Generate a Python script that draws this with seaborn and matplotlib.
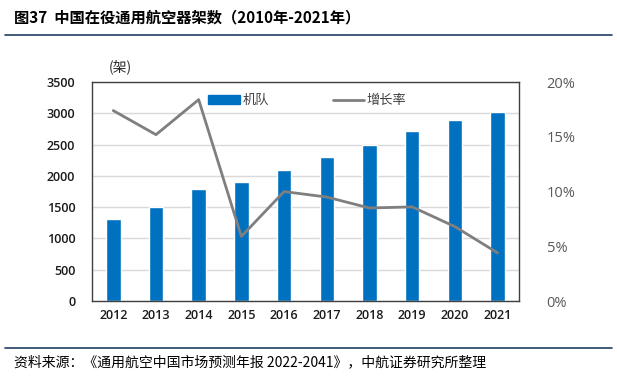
import matplotlib
matplotlib.use("Agg")
import matplotlib.pyplot as plt
import seaborn as sns
import pandas as pd
from matplotlib.lines import Line2D
from matplotlib.patches import Patch
from matplotlib.ticker import FuncFormatter

years = ["2012", "2013", "2014", "2015", "2016", "2017", "2018", "2019", "2020", "2021"]
fleet = [1310, 1500, 1790, 1900, 2095, 2300, 2490, 2715, 2890, 3020]
growth = [17.4, 15.2, 18.4, 5.9, 10.0, 9.5, 8.5, 8.6, 6.8, 4.4]

sns.set_theme(style="white")
plt.rcParams["font.family"] = ["Noto Sans CJK SC", "DejaVu Sans"]

df = pd.DataFrame({"year": years, "fleet": fleet, "growth": growth})

fig = plt.figure(figsize=(6.17, 3.82), dpi=100)
ax = fig.add_axes([0.149, 0.212, 0.692, 0.573])

blue = "#0070C0"
gray = "#7F7F7F"

sns.barplot(data=df, x="year", y="fleet", color=blue, width=0.34, ax=ax,
            saturation=1, zorder=2)
ax.set_ylim(0, 3500)
ax.set_yticks(range(0, 3501, 500))
ax.set_xlim(-0.5, 9.5)
ax.grid(axis="y", color="#D9D9D9", linewidth=1, zorder=0)
ax.set_axisbelow(True)
ax.set_xlabel("")
ax.set_ylabel("")
for s in ax.spines.values():
    s.set_color("#404040")
    s.set_linewidth(1.0)

ax2 = ax.twinx()
sns.lineplot(data=df, x="year", y="growth", color=gray, linewidth=2, ax=ax2,
             sort=False, zorder=3)
ax2.set_ylim(0, 20)
ax2.set_yticks([0, 5, 10, 15, 20])
ax2.yaxis.set_major_formatter(FuncFormatter(lambda v, p: f"{int(v)}%"))
ax2.set_ylabel("")
ax2.set_xlim(-0.5, 9.5)
for s in ax2.spines.values():
    s.set_visible(False)

ax.tick_params(axis="both", length=0, labelsize=9, colors="#1A1A1A", pad=6)
ax.tick_params(axis="y", pad=12)
ax2.tick_params(axis="y", length=0, labelsize=10.5, colors="#595959", pad=20)
for lab in ax.get_xticklabels() + ax.get_yticklabels():
    lab.set_fontfamily(["Open Sans", "DejaVu Sans"])
    lab.set_fontweight(600)
for lab in ax2.get_yticklabels():
    lab.set_fontfamily(["Open Sans", "DejaVu Sans"])

handles = [Patch(facecolor=blue, edgecolor=blue),
           Line2D([0], [0], color=gray, linewidth=2)]
leg = ax.legend(handles, ["机队", "增长率"], ncol=2, frameon=False,
                loc="upper center", bbox_to_anchor=(0.505, 1.0),
                handlelength=2.4, handleheight=0.6, columnspacing=4.8,
                handletextpad=0.2, fontsize=9.5)
for t in leg.get_texts():
    t.set_color("#404040")

fig.text(0.195, 0.825, "(架)", fontsize=10, color="#262626", ha="center", va="center")

fig.text(0.022, 0.953, "图37  中国在役通用航空器架数（2010年-2021年）", fontsize=11,
         fontweight="bold", color="#000000", ha="left", va="center")
fig.add_artist(Line2D([0.008, 0.992], [0.908, 0.908], color="#1F3F5F", linewidth=1.2,
                      transform=fig.transFigure))
fig.add_artist(Line2D([0.008, 0.992], [0.089, 0.089], color="#1F3F5F", linewidth=1.2,
                      transform=fig.transFigure))
fig.text(0.022, 0.052, "资料来源：《通用航空中国市场预测年报 2022-2041》，中航证券研究所整理",
         fontsize=10, color="#000000", ha="left", va="center")

fig.savefig("out.png", dpi=100)
